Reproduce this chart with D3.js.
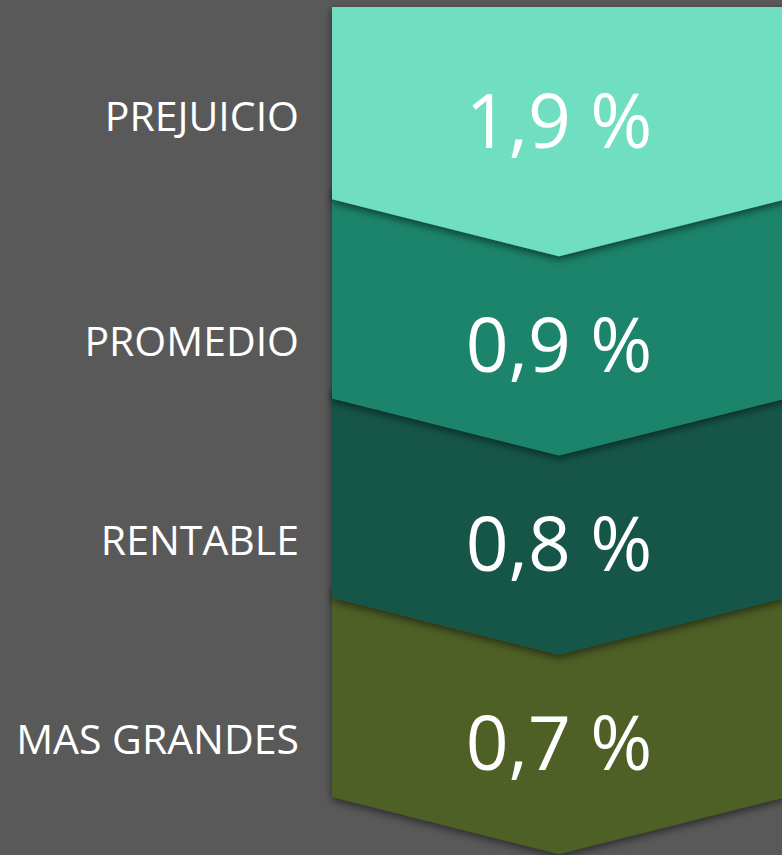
<!DOCTYPE html>
<html>
<head>
<meta charset="utf-8">
<script src="https://cdn.jsdelivr.net/npm/d3@7"></script>
<style>
  html, body { margin: 0; padding: 0; background: #595959; }
  svg { display: block; }
</style>
</head>
<body>
<div id="chart"></div>
<script>
const categories = ["PREJUICIO", "PROMEDIO", "RENTABLE", "MAS GRANDES"]
const values = [1.9, 0.9, 0.8, 0.7]
const colors = ["#70dfc1", "#1f846a", "#16574a", "#4f6127"]

const width = 782, height = 855
const xLeft = 332, xRight = 786, tipX = (xLeft + xRight) / 2
const yTop = 7, depth = 57

const svg = d3.select("#chart").append("svg")
  .attr("width", width)
  .attr("height", height)

const defs = svg.append("defs")
const shadow = defs.append("filter")
  .attr("id", "shadow")
  .attr("x", "-10%").attr("y", "-10%")
  .attr("width", "120%").attr("height", "130%")
shadow.append("feDropShadow")
  .attr("dx", 0).attr("dy", 3)
  .attr("stdDeviation", 4)
  .attr("flood-color", "#000")
  .attr("flood-opacity", 0.55)

svg.append("rect")
  .attr("width", width).attr("height", height)
  .attr("fill", "#595959")

// each band ends where the chevron's sides end
const y = d3.scaleBand()
  .domain(categories)
  .range([0, 797])
  .paddingInner(0)

const fmt = v => d3.format(".1f")(v).replace(".", ",") + " %"

const sideBottom = d => y(d) + y.bandwidth()
const tip = d => sideBottom(d) + depth
const chevTop = (d, i) => i === 0 ? yTop : sideBottom(categories[i - 1]) - 10

const chevron = (d, i) => {
  const t = chevTop(d, i), b = sideBottom(d), p = tip(d)
  return `M${xLeft},${t}L${xRight},${t}L${xRight},${b}L${tipX},${p}L${xLeft},${b}Z`
}

// draw bottom first so upper chevrons cast their shadow on lower ones
const order = categories.map((d, i) => i).reverse()

svg.append("g")
  .selectAll("path")
  .data(order)
  .enter().append("path")
  .attr("d", i => chevron(categories[i], i))
  .attr("fill", i => colors[i])
  .attr("filter", "url(#shadow)")

const centerY = (d, i) => {
  const prev = i === 0 ? yTop : tip(categories[i - 1])
  return (prev + tip(d)) / 2 - 11
}

const valueSize = 75
svg.append("g")
  .selectAll("text")
  .data(categories)
  .enter().append("text")
  .attr("x", tipX)
  .attr("y", (d, i) => centerY(d, i) + valueSize * 0.36)
  .attr("text-anchor", "middle")
  .style("font-family", "'Open Sans', sans-serif")
  .style("font-size", valueSize + "px")
  .style("fill", "#fff")
  .text((d, i) => fmt(values[i]))

const labelSize = 41
svg.append("g")
  .selectAll("text")
  .data(categories)
  .enter().append("text")
  .attr("x", 299)
  .attr("y", (d, i) => centerY(d, i) - 4 + labelSize * 0.36)
  .attr("text-anchor", "end")
  .style("font-family", "'Open Sans', sans-serif")
  .style("font-size", labelSize + "px")
  .style("fill", "#fff")
  .text(d => d)
</script>
</body>
</html>
